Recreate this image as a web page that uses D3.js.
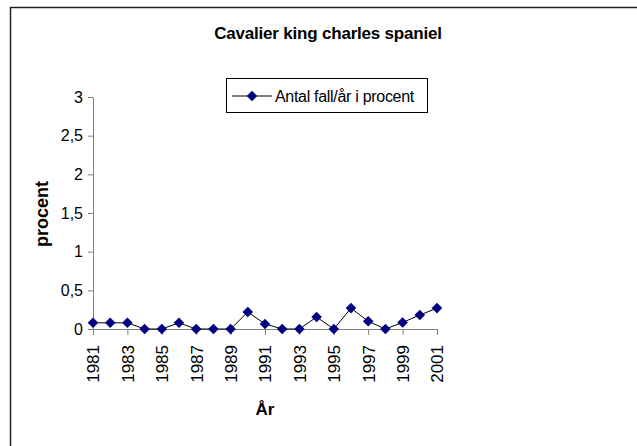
<!DOCTYPE html>
<html>
<head>
<meta charset="utf-8">
<script src="https://cdn.jsdelivr.net/npm/d3@7"></script>
<style>
  body { margin: 0; background: #fff; }
  svg { font-family: "Liberation Sans", Arial, sans-serif; }
</style>
</head>
<body>
<div id="chart"></div>
<script>
(function () {
  const Navy = "#000080";

  // Data
  const years = [1981, 1982, 1983, 1984, 1985, 1986, 1987, 1988, 1989, 1990, 1991,
    1992, 1993, 1994, 1995, 1996, 1997, 1998, 1999, 2000, 2001];
  const values = [0.08, 0.08, 0.08, 0, 0, 0.08, 0, 0, 0, 0.22, 0.065,
    0, 0, 0.155, 0, 0.27, 0.1, 0, 0.085, 0.18, 0.27];
  const yTicks = [0, 0.5, 1, 1.5, 2, 2.5, 3];
  const xTickYears = years.filter(function (d, i) { return i % 2 === 0; });

  const width = 637, height = 446;
  const left = 93, right = 437, top = 97, bottom = 329;

  var svg = d3.select("#chart").append("svg")
    .attr("width", width)
    .attr("height", height);

  // Outer frame (top and left edges visible)
  svg.append("path")
    .attr("d", "M10.5," + height + "V7.5H" + width)
    .attr("fill", "none")
    .attr("stroke", "#222")
    .attr("stroke-width", 1.5);

  var x = d3.scalePoint().domain(years).range([left, right]);
  var y = d3.scaleLinear().domain([0, 3]).range([bottom, top]);

  // Title
  svg.append("text")
    .attr("x", 328)
    .attr("y", 39)
    .attr("text-anchor", "middle")
    .style("font-weight", "bold")
    .style("font-size", "17px")
    .style("letter-spacing", "-0.2px")
    .text("Cavalier king charles spaniel");

  // Y axis
  var yAxis = svg.append("g")
    .attr("transform", "translate(" + left + ",0)")
    .call(d3.axisLeft(y).tickValues(yTicks).tickSize(5).tickSizeOuter(0)
      .tickFormat(function (d) { return String(d).replace(".", ","); }));
  yAxis.select(".domain").attr("stroke", "#808080");
  yAxis.selectAll(".tick line").attr("stroke", "#808080");
  yAxis.selectAll("text")
    .style("font-size", "16px")
    .style("font-family", "Liberation Sans, Arial, sans-serif")
    .attr("fill", "#000")
    .attr("x", -10);

  // X axis
  var xAxis = svg.append("g")
    .attr("transform", "translate(0," + bottom + ")")
    .call(d3.axisBottom(x).tickValues(xTickYears).tickSize(6).tickSizeOuter(0));
  xAxis.select(".domain").attr("stroke", "#808080");
  xAxis.selectAll(".tick line").attr("stroke", "#808080");
  xAxis.selectAll("text")
    .style("font-size", "17px")
    .style("font-family", "Liberation Sans, Arial, sans-serif")
    .attr("fill", "#000")
    .attr("transform", "rotate(-90)")
    .attr("text-anchor", "end")
    .attr("x", -16)
    .attr("y", 0)
    .attr("dy", "0.35em");

  // Axis labels
  svg.append("text")
    .attr("x", 265)
    .attr("y", 415)
    .attr("text-anchor", "middle")
    .style("font-weight", "bold")
    .style("font-size", "17px")
    .text("År");

  svg.append("text")
    .attr("transform", "translate(48,214) rotate(-90)")
    .attr("text-anchor", "middle")
    .style("font-weight", "bold")
    .style("font-size", "18px")
    .text("procent");

  // Line
  var data = years.map(function (d, i) { return { year: d, value: values[i] }; });
  var line = d3.line()
    .x(function (d) { return x(d.year); })
    .y(function (d) { return y(d.value); });

  svg.append("path")
    .datum(data)
    .attr("fill", "none")
    .attr("stroke", "#000")
    .attr("stroke-width", 1)
    .attr("d", line);

  // Diamond markers (rotated squares)
  var marker = d3.symbol().type(d3.symbolSquare).size(56);

  svg.selectAll(".marker")
    .data(data)
    .enter()
    .append("path")
    .attr("class", "marker")
    .attr("transform", function (d) {
      return "translate(" + x(d.year) + "," + y(d.value) + ") rotate(45)";
    })
    .attr("d", marker)
    .attr("fill", Navy);

  // Legend
  var legend = svg.append("g");
  legend.append("rect")
    .attr("x", 226.5)
    .attr("y", 78.5)
    .attr("width", 201)
    .attr("height", 34)
    .attr("fill", "#fff")
    .attr("stroke", "#000");
  legend.append("line")
    .attr("x1", 232).attr("x2", 272)
    .attr("y1", 96).attr("y2", 96)
    .attr("stroke", "#000");
  legend.append("path")
    .attr("transform", "translate(252,96) rotate(45)")
    .attr("d", marker)
    .attr("fill", Navy);
  legend.append("text")
    .attr("x", 275)
    .attr("y", 101.5)
    .style("font-size", "16px")
    .style("letter-spacing", "-0.3px")
    .text("Antal fall/år i procent");
})();
</script>
</body>
</html>
